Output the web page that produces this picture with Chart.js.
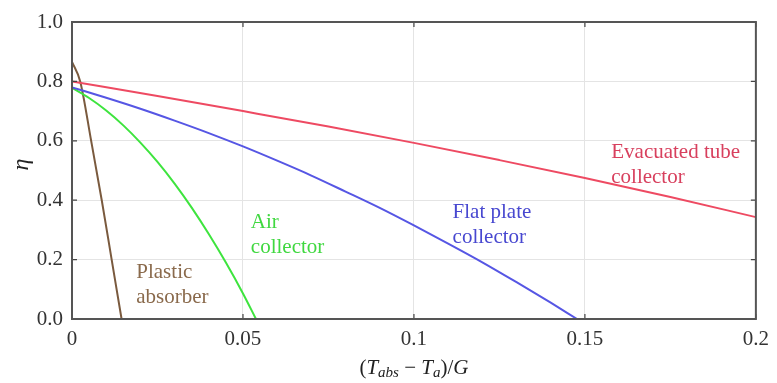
<!DOCTYPE html>
<html>
<head>
<meta charset="utf-8">
<script src="https://cdn.jsdelivr.net/npm/chart.js@4/dist/chart.umd.min.js"></script>
<style>
  html, body { margin: 0; padding: 0; background: #fff; }
  #wrap { width: 777px; height: 383px; }
</style>
</head>
<body>
<div id="wrap"><canvas id="effChart"></canvas></div>
<script>
// values: x = (Tabs - Ta)/G, y = efficiency
var evacX = [0, 0.025, 0.05, 0.075, 0.1, 0.125, 0.15, 0.175, 0.2];
var evacY = [0.80, 0.751, 0.70, 0.648, 0.593, 0.535, 0.475, 0.411, 0.343];

var flatX = [0, 0.01, 0.02, 0.03, 0.04, 0.05, 0.06, 0.07, 0.08, 0.09, 0.10, 0.11, 0.12, 0.13, 0.14, 0.1477];
var flatY = [0.78, 0.745, 0.708, 0.668, 0.626, 0.581, 0.533, 0.483, 0.429, 0.374, 0.315, 0.254, 0.191, 0.124, 0.055, 0];

var airX = [0, 0.005, 0.01, 0.015, 0.02, 0.025, 0.03, 0.035, 0.04, 0.045, 0.05, 0.0538];
var airY = [0.778, 0.744, 0.702, 0.652, 0.594, 0.529, 0.456, 0.375, 0.286, 0.190, 0.086, 0];

var plasticX = [0, 0.0024, 0.0056, 0.0087, 0.0116, 0.0145];
var plasticY = [0.866, 0.80, 0.60, 0.40, 0.20, 0];

var xTicks = [0, 0.05, 0.1, 0.15, 0.2];
var yTicks = [0, 0.2, 0.4, 0.6, 0.8, 1.0];

// curve labels: text lines, anchor in data units, colour
var curveLabels = [
  { lines: ["Evacuated tube", "collector"], x: 0.1577, y: 0.56, color: "#d8405e" },
  { lines: ["Flat plate", "collector"], x: 0.1113, y: 0.36, color: "#4848d0" },
  { lines: ["Air", "collector"], x: 0.0523, y: 0.325, color: "#40d840" },
  { lines: ["Plastic", "absorber"], x: 0.0188, y: 0.155, color: "#8a6a4c" }
];

function pts(xs, ys) {
  return xs.map(function (x, i) { return { x: x, y: ys[i] }; });
}

var serif = "'Liberation Serif', 'DejaVu Serif', serif";

var frameAndText = {
  id: "frameAndText",
  afterDatasetsDraw: function (chart) {
    var ctx = chart.ctx;
    var a = chart.chartArea;
    var xs = chart.scales.x, ys = chart.scales.y;
    ctx.save();
    // inward tick marks
    ctx.strokeStyle = "#444";
    ctx.lineWidth = 1.2;
    ctx.beginPath();
    xTicks.forEach(function (v) {
      var px = xs.getPixelForValue(v);
      ctx.moveTo(px, a.bottom); ctx.lineTo(px, a.bottom - 5);
      ctx.moveTo(px, a.top); ctx.lineTo(px, a.top + 5);
    });
    yTicks.forEach(function (v) {
      var py = ys.getPixelForValue(v);
      ctx.moveTo(a.left, py); ctx.lineTo(a.left + 5, py);
      ctx.moveTo(a.right, py); ctx.lineTo(a.right - 5, py);
    });
    ctx.stroke();
    // box
    ctx.strokeStyle = "#555";
    ctx.lineWidth = 2;
    ctx.strokeRect(a.left, a.top, a.right - a.left, a.bottom - a.top);

    // curve labels
    ctx.font = "21px " + serif;
    ctx.textAlign = "left";
    ctx.textBaseline = "middle";
    curveLabels.forEach(function (l) {
      ctx.fillStyle = l.color;
      var px = xs.getPixelForValue(l.x), py = ys.getPixelForValue(l.y);
      l.lines.forEach(function (t, i) { ctx.fillText(t, px, py + i * 25); });
    });

    // y title
    ctx.fillStyle = "#222";
    ctx.save();
    ctx.translate(22, (a.top + a.bottom) / 2 - 6);
    ctx.rotate(-Math.PI / 2);
    ctx.font = "italic 24px " + serif;
    ctx.textAlign = "center";
    ctx.fillText("\u03b7", 0, 0);
    ctx.restore();

    // x title with subscripts
    var parts = [
      { t: "(", f: "21px " + serif, dy: 0 },
      { t: "T", f: "italic 21px " + serif, dy: 0 },
      { t: "abs", f: "italic 15px " + serif, dy: 5 },
      { t: " \u2212 ", f: "21px " + serif, dy: 0 },
      { t: "T", f: "italic 21px " + serif, dy: 0 },
      { t: "a", f: "italic 15px " + serif, dy: 5 },
      { t: ")/", f: "21px " + serif, dy: 0 },
      { t: "G", f: "italic 21px " + serif, dy: 0 }
    ];
    var total = 0;
    parts.forEach(function (p) { ctx.font = p.f; p.w = ctx.measureText(p.t).width; total += p.w; });
    var cx = (a.left + a.right) / 2 - total / 2;
    var ty = 368;
    ctx.textAlign = "left";
    ctx.textBaseline = "middle";
    parts.forEach(function (p) {
      ctx.font = p.f;
      ctx.fillText(p.t, cx, ty + p.dy);
      cx += p.w;
    });
    ctx.restore();
  }
};

new Chart(document.getElementById("effChart").getContext("2d"), {
  type: "line",
  data: {
    datasets: [
      { label: "Evacuated tube collector", data: pts(evacX, evacY), borderColor: "#ee4a62" },
      { label: "Flat plate collector", data: pts(flatX, flatY), borderColor: "#5656e4" },
      { label: "Air collector", data: pts(airX, airY), borderColor: "#3ee43e" },
      { label: "Plastic absorber", data: pts(plasticX, plasticY), borderColor: "#7a5a3e" }
    ]
  },
  options: {
    responsive: true,
    maintainAspectRatio: false,
    animation: false,
    layout: { padding: { left: 0, right: 17, top: 22, bottom: 0 } },
    elements: {
      point: { radius: 0 },
      line: { borderWidth: 2, cubicInterpolationMode: "monotone", fill: false }
    },
    plugins: {
      legend: { display: false },
      tooltip: { enabled: false }
    },
    scales: {
      x: {
        type: "linear",
        min: 0,
        max: 0.2,
        afterFit: function (s) { s.height = 64; },
        afterBuildTicks: function (s) { s.ticks = xTicks.map(function (v) { return { value: v }; }); },
        ticks: {
          padding: 8,
          color: "#333",
          font: { family: serif, size: 21 },
          maxRotation: 0,
          callback: function (v) { return String(+v.toFixed(2)); }
        },
        grid: { color: "#e4e4e4", drawTicks: false },
        border: { display: false }
      },
      y: {
        min: 0,
        max: 1,
        afterFit: function (s) { s.width = 72; },
        afterBuildTicks: function (s) { s.ticks = yTicks.map(function (v) { return { value: v }; }); },
        ticks: {
          padding: 9,
          color: "#333",
          font: { family: serif, size: 21 },
          callback: function (v) { return v.toFixed(1); }
        },
        grid: { color: "#e4e4e4", drawTicks: false },
        border: { display: false }
      }
    }
  },
  plugins: [frameAndText]
});
</script>
</body>
</html>
